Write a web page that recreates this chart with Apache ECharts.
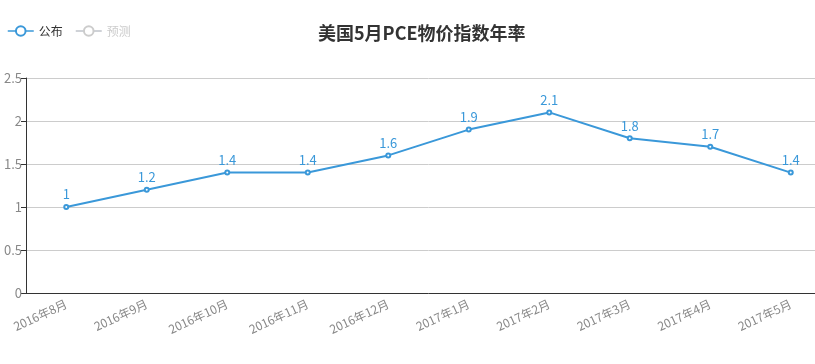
<!DOCTYPE html>
<html><head><meta charset="utf-8">
<script src="https://cdn.jsdelivr.net/npm/echarts@6/dist/echarts.min.js"></script>
<style>html,body{margin:0;padding:0;background:#fff;overflow:hidden;width:815px;height:364px}#c{width:831px;height:364px}</style>
</head><body><div id="c"></div>
<script>
const categories = ['2016年8月','2016年9月','2016年10月','2016年11月','2016年12月','2017年1月','2017年2月','2017年3月','2017年4月','2017年5月'];
const published = [1, 1.2, 1.4, 1.4, 1.6, 1.9, 2.1, 1.8, 1.7, 1.4];
const forecast = [];
const yTicks = {min: 0, max: 2.5, interval: 0.5};

const chart = echarts.init(document.getElementById('c'));
chart.setOption({
  animation: false,
  textStyle: {fontFamily: '"Noto Sans CJK SC", "Noto Sans", sans-serif'},
  title: {
    text: '美国5月PCE物价指数年率',
    left: 313, top: 19,
    textStyle: {fontSize: 18, fontWeight: 'bold', color: '#333', fontFamily: '"Noto Sans CJK SC", sans-serif'}
  },
  legend: {
    left: 2, top: 20,
    itemWidth: 26, itemHeight: 12, itemGap: 12,
    selected: {'预测': false},
    inactiveColor: '#ccc',
    textStyle: {fontSize: 12, color: '#333'},
    itemStyle: {borderWidth: 1.5},
    lineStyle: {width: 1.5},
    data: ['公布', '预测']
  },
  grid: {left: 26, top: 78, right: 0, bottom: 71},
  xAxis: {
    type: 'category',
    data: categories,
    boundaryGap: true,
    axisLine: {lineStyle: {color: '#333'}},
    axisTick: {lineStyle: {color: '#333'}},
    axisLabel: {rotate: 25, color: '#888', fontSize: 12, interval: 0, margin: 10}
  },
  yAxis: {
    type: 'value',
    min: yTicks.min, max: yTicks.max, interval: yTicks.interval,
    axisLine: {show: true, lineStyle: {color: '#333'}},
    axisTick: {show: true, lineStyle: {color: '#333'}},
    axisLabel: {color: '#888', fontSize: 13, margin: 4},
    splitLine: {lineStyle: {color: '#ccc'}}
  },
  series: [
    {
      name: '公布', type: 'line', data: published,
      symbol: 'emptyCircle', symbolSize: 4,
      itemStyle: {color: '#3a98d9'},
      lineStyle: {color: '#3a98d9', width: 2},
      label: {show: true, position: 'top', color: '#3a98d9', fontSize: 13, distance: 3}
    },
    {
      name: '预测', type: 'line', data: forecast,
      symbol: 'emptyCircle', symbolSize: 4,
      itemStyle: {color: '#c4ccd3'}
    }
  ]
});
</script></body></html>
